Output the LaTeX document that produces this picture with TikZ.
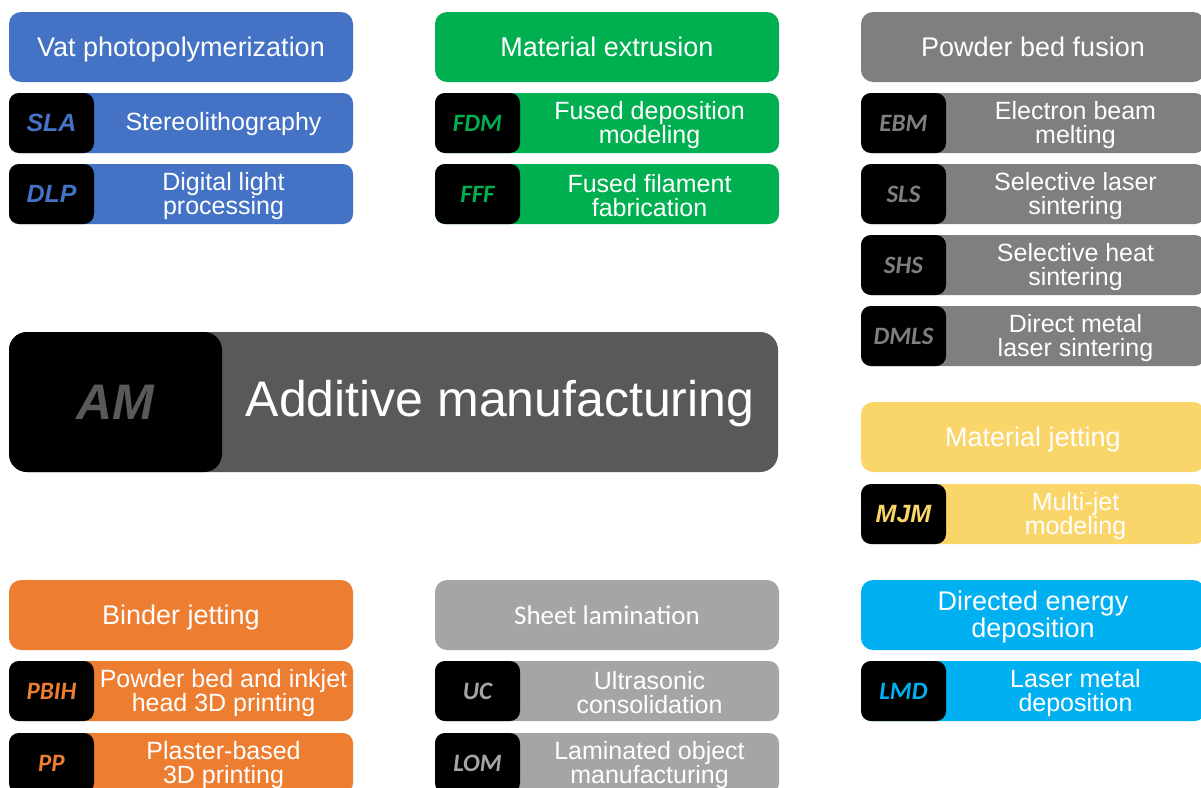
\documentclass[tikz,border=0pt]{standalone}
\usepackage{fontspec}
\setmainfont{Liberation Sans}
\newfontfamily\carlito{Carlito}
\newcommand\hdfont{\fontsize{27}{25}\selectfont}
\newcommand\rwfont{\fontsize{25}{24}\selectfont}
\newcommand\tgfont{\fontsize{25}{25}\selectfont\bfseries\itshape}
\newcommand\amfont{\fontsize{50}{50}\selectfont}
\definecolor{vatblue}{HTML}{4472C4}
\definecolor{extgreen}{HTML}{00B050}
\definecolor{pbfgray}{HTML}{7F7F7F}
\definecolor{jetyellow}{HTML}{FAD56A}
\definecolor{dedcyan}{HTML}{00B0F0}
\definecolor{bindorange}{HTML}{ED7D31}
\definecolor{sheetgray}{HTML}{A5A5A5}
\definecolor{amgray}{HTML}{595959}

\begin{document}
\begin{tikzpicture}[x=1pt,y=-1pt,
  head/.style={rounded corners=12pt,minimum width=344pt,minimum height=70pt,inner sep=0pt,text=white,align=center,font=\hdfont},
  bar/.style={rounded corners=10pt,minimum width=344pt,minimum height=60pt,inner sep=0pt},
  tag/.style={fill=black,rounded corners=10pt,minimum width=85pt,minimum height=60pt,inner sep=0pt,font=\tgfont},
  txt/.style={text=white,align=center,font=\rwfont,yshift=-2pt},
  one/.style={text height=21pt,text depth=3pt}]

\useasboundingbox (0,0) rectangle (1201,787);
\fill[white] (0,0) rectangle (1201,787);
\clip (0,0) rectangle (1201,787);

% vat photopolymerization
\node[head,one,fill=vatblue] (vat) at (181,47) {Vat photopolymerization};
\node[bar,fill=vatblue] (sla) at (181,123) {};
\node[tag,text=vatblue] (sla-tag) at (51.5,123) {SLA};
\node[txt,text height=16pt,text depth=5pt] (sla-txt) at (223.5,123) {Stereolithography};
\node[bar,fill=vatblue] (dlp) at (181,194) {};
\node[tag,text=vatblue] (dlp-tag) at (51.5,194) {DLP};
\node[txt] (dlp-txt) at (223.5,194) {Digital light\\processing};

% material extrusion
\node[head,one,fill=extgreen] (ext) at (607,47) {Material extrusion};
\node[bar,fill=extgreen] (fdm) at (607,123) {};
\node[tag,text=extgreen] (fdm-tag) at (477.5,123) {\carlito FDM};
\node[txt] (fdm-txt) at (649.5,123) {Fused deposition\\modeling};
\node[bar,fill=extgreen] (fff) at (607,194) {};
\node[tag,text=extgreen] (fff-tag) at (477.5,194) {\carlito FFF};
\node[txt] (fff-txt) at (649.5,194) {Fused filament\\fabrication};

% powder bed fusion
\node[head,one,fill=pbfgray] (pbf) at (1033,47) {Powder bed fusion};
\node[bar,fill=pbfgray] (ebm) at (1033,123) {};
\node[tag,text=pbfgray] (ebm-tag) at (903.5,123) {\carlito EBM};
\node[txt] (ebm-txt) at (1075.5,123) {Electron beam\\melting};
\node[bar,fill=pbfgray] (sls) at (1033,194) {};
\node[tag,text=pbfgray] (sls-tag) at (903.5,194) {\carlito SLS};
\node[txt] (sls-txt) at (1075.5,194) {Selective laser\\sintering};
\node[bar,fill=pbfgray] (shs) at (1033,265) {};
\node[tag,text=pbfgray] (shs-tag) at (903.5,265) {\carlito SHS};
\node[txt] (shs-txt) at (1075.5,265) {Selective heat\\sintering};
\node[bar,fill=pbfgray] (dmls) at (1033,336) {};
\node[tag,text=pbfgray] (dmls-tag) at (903.5,336) {\carlito DMLS};
\node[txt] (dmls-txt) at (1075.5,336) {Direct metal\\laser sintering};

% material jetting
\node[head,one,fill=jetyellow] (mj) at (1033,437) {Material jetting};
\node[bar,fill=jetyellow] (mjm) at (1033,514) {};
\node[tag,text=jetyellow] (mjm-tag) at (903.5,514) {MJM};
\node[txt] (mjm-txt) at (1075.5,514) {Multi-jet\\modeling};

% directed energy deposition
\node[head,fill=dedcyan] (ded) at (1033,615) {};
\node[txt,font=\hdfont] (ded-txt) at (1033,615) {Directed energy\\deposition};
\node[bar,fill=dedcyan] (lmd) at (1033,691) {};
\node[tag,text=dedcyan] (lmd-tag) at (903.5,691) {\carlito LMD};
\node[txt] (lmd-txt) at (1075.5,691) {Laser metal\\deposition};

% binder jetting
\node[head,one,fill=bindorange] (bind) at (181,615) {Binder jetting};
\node[bar,fill=bindorange] (pbih) at (181,691) {};
\node[tag,text=bindorange] (pbih-tag) at (51.5,691) {\carlito PBIH};
\node[txt] (pbih-txt) at (223.5,691) {Powder bed and inkjet\\head 3D printing};
\node[bar,fill=bindorange] (pp) at (181,763) {};
\node[tag,text=bindorange] (pp-tag) at (51.5,763) {\carlito PP};
\node[txt] (pp-txt) at (223.5,763) {Plaster-based\\3D printing};

% sheet lamination
\node[head,one,fill=sheetgray] (sheet) at (607,615) {\carlito Sheet lamination};
\node[bar,fill=sheetgray] (uc) at (607,691) {};
\node[tag,text=sheetgray] (uc-tag) at (477.5,691) {\carlito UC};
\node[txt] (uc-txt) at (649.5,691) {Ultrasonic\\consolidation};
\node[bar,fill=sheetgray] (lom) at (607,763) {};
\node[tag,text=sheetgray] (lom-tag) at (477.5,763) {\carlito LOM};
\node[txt] (lom-txt) at (649.5,763) {Laminated object\\manufacturing};

% additive manufacturing
\node[fill=amgray,rounded corners=18pt,minimum width=769pt,minimum height=140pt,inner sep=0pt] (am) at (393.5,402) {};
\node[fill=black,rounded corners=18pt,minimum width=213pt,minimum height=140pt,inner sep=0pt,text=amgray,font=\amfont\bfseries\itshape] (am-tag) at (115.5,402) {AM};
\node[text=white,font=\amfont,yshift=-2pt] (am-txt) at (500,402) {Additive manufacturing};

\end{tikzpicture}
\end{document}
